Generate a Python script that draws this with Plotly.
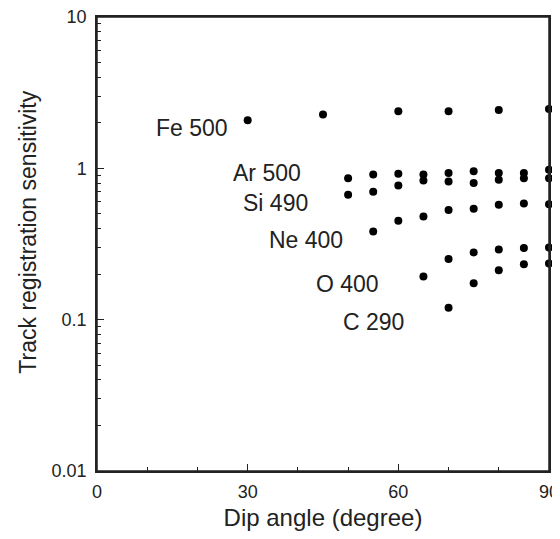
import plotly.graph_objects as go

# Data
ions = ["Fe 500", "Ar 500", "Si 490", "Ne 400", "O 400", "C 290"]

fe_angle = [30, 45, 60, 70, 80, 90]
fe_sens = [2.08, 2.27, 2.38, 2.38, 2.43, 2.47]

ar_angle = [50, 55, 60, 65, 70, 75, 80, 85, 90]
ar_sens = [0.86, 0.91, 0.92, 0.91, 0.93, 0.955, 0.93, 0.93, 0.98]

si_angle = [50, 55, 60, 65, 70, 75, 80, 85, 90]
si_sens = [0.67, 0.70, 0.77, 0.83, 0.82, 0.80, 0.84, 0.86, 0.86]

ne_angle = [55, 60, 65, 70, 75, 80, 85, 90]
ne_sens = [0.383, 0.45, 0.48, 0.53, 0.54, 0.575, 0.586, 0.58]

o_angle = [65, 70, 75, 80, 85, 90]
o_sens = [0.193, 0.252, 0.278, 0.291, 0.297, 0.30]

c_angle = [70, 75, 80, 85, 90]
c_sens = [0.12, 0.174, 0.212, 0.232, 0.235]

# label anchor positions (angle, log10 sensitivity)
label_x = [18.9, 33.9, 35.5, 41.6, 49.8, 55.0]
label_y = [0.268, -0.029, -0.227, -0.473, -0.761, -1.018]

x_ticks = [0, 30, 60, 90]
y_ticks = [0.01, 0.1, 1, 10]
y_ticklabels = ["0.01", "0.1", "1", "10"]

x_title = "Dip angle (degree)"
y_title = "Track registration sensitivity"

FONT = "Arial, Liberation Sans, Helvetica, sans-serif"
INK = "#222"

fig = go.Figure()
series = [(fe_angle, fe_sens), (ar_angle, ar_sens), (si_angle, si_sens),
          (ne_angle, ne_sens), (o_angle, o_sens), (c_angle, c_sens)]
for name, (xs, ys) in zip(ions, series):
    fig.add_trace(go.Scatter(
        x=xs, y=ys, mode="markers", name=name,
        marker=dict(color="black", size=8, line=dict(width=0)),
        cliponaxis=False, showlegend=False))

for name, lx, ly in zip(ions, label_x, label_y):
    fig.add_annotation(x=lx, y=ly, text=name, showarrow=False,
                       xref="x", yref="y",
                       font=dict(family=FONT, size=23, color=INK))

# y-axis title placed as a rotated annotation (sits slightly above centre in the reference)
fig.add_annotation(x=0, y=0.525, xref="paper", yref="paper", xshift=-69,
                   text=y_title, textangle=-90, showarrow=False,
                   xanchor="center", yanchor="middle",
                   font=dict(family=FONT, size=23, color=INK))

# plot frame
fig.add_shape(type="rect", xref="paper", yref="paper", x0=0, y0=0, x1=1, y1=1,
              line=dict(color=INK, width=1.5), layer="above")

# the page body adds an 8px margin, so the figure is sized to fit inside the window
fig.update_layout(
    width=544, height=523,
    margin=dict(l=89, r=3, t=9, b=60),
    paper_bgcolor="white", plot_bgcolor="white",
    font=dict(family=FONT, color=INK),
)
fig.update_xaxes(
    range=[0, 90], tickvals=x_ticks, ticks="inside", ticklen=7, tickwidth=1.2,
    tickcolor=INK, showline=True, linecolor=INK, linewidth=1.5, mirror=True,
    showgrid=False, zeroline=False, tickfont=dict(size=18, color=INK),
    ticklabelstandoff=4, automargin=False, ticklabeloverflow="allow",
    minor=dict(dtick=10, tick0=0, ticks="inside", ticklen=4, tickcolor=INK, showgrid=False),
    title=dict(text=x_title, font=dict(size=24, color=INK), standoff=10),
)
fig.update_yaxes(
    type="log", range=[-2, 1], tickvals=y_ticks, ticktext=y_ticklabels,
    ticks="inside", ticklen=7, tickwidth=1.2, tickcolor=INK,
    showline=True, linecolor=INK, linewidth=1.5, mirror=True,
    showgrid=False, zeroline=False, tickfont=dict(size=18, color=INK),
    ticklabelstandoff=5, automargin=False, ticklabeloverflow="allow",
    minor=dict(dtick="D1", ticks="inside", ticklen=4, tickcolor=INK, showgrid=False),
)

fig.write_html("out.html")
